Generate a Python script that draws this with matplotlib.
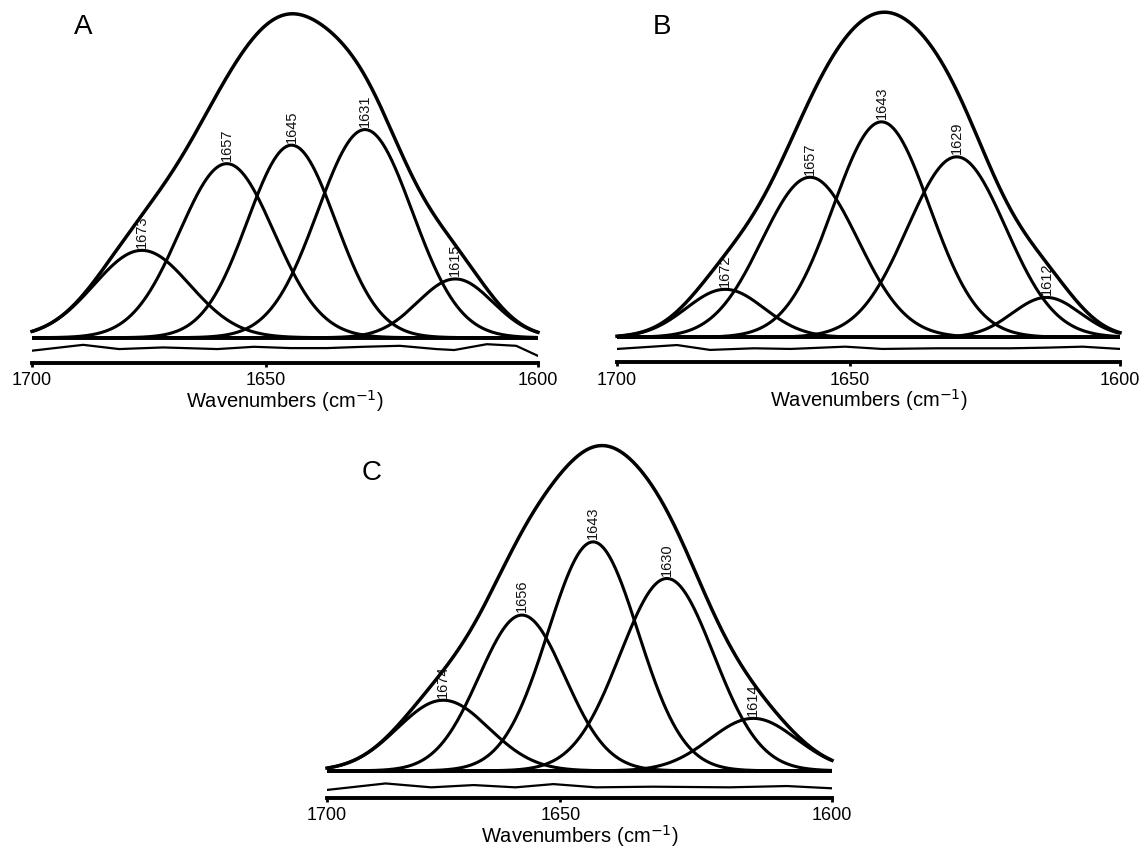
import numpy as np
import matplotlib
matplotlib.use("Agg")
import matplotlib.pyplot as plt

plt.rcParams['font.family'] = ['Liberation Sans', 'DejaVu Sans']

# ---------------- data ----------------
# left end of the drawn axis (labelled "1700" in the original figure)
axis_left = 1693.0
tick_values = [axis_left, 1650, 1600]
tick_labels = ['1700', '1650', '1600']

# Panel A
a_labels = ['1673', '1657', '1645', '1631', '1615']
a_centers = [1672.8, 1657.2, 1645.3, 1631.8, 1615.2]
a_heights = [0.269, 0.536, 0.593, 0.641, 0.181]
a_sigmas = [8.8, 8.7, 8.1, 8.7, 6.9]
a_res_wn = [1693, 1683.6, 1677.0, 1668.9, 1658.9, 1652.2, 1645.5, 1638.8,
            1632.1, 1625.4, 1618.7, 1615.4, 1609.4, 1604.0, 1600]
a_res_val = [-0.008, 0.010, -0.003, 0.002, -0.003, 0.004, 0.0, 0.0,
             0.004, 0.007, -0.003, -0.006, 0.012, 0.007, -0.024]

# Panel B
b_labels = ['1672', '1657', '1643', '1629', '1612']
b_centers = [1673.0, 1657.3, 1644.1, 1630.2, 1613.6]
b_heights = [0.148, 0.494, 0.665, 0.557, 0.123]
b_sigmas = [7.2, 8.9, 8.9, 9.1, 6.3]
b_res_wn = [1693, 1681.9, 1675.8, 1667.7, 1660.9, 1650.8, 1644.0, 1633.9,
            1620.4, 1613.6, 1606.9, 1600]
b_res_val = [-0.003, 0.009, -0.006, -0.001, -0.003, 0.004, -0.003, -0.001,
             -0.001, 0.001, 0.004, -0.003]

# Panel C
c_labels = ['1674', '1656', '1643', '1630', '1614']
c_centers = [1671.6, 1657.1, 1644.0, 1630.4, 1614.5]
c_heights = [0.218, 0.481, 0.707, 0.594, 0.162]
c_sigmas = [8.4, 7.9, 8.3, 8.6, 8.0]
c_res_wn = [1693, 1682.2, 1673.8, 1666.0, 1658.3, 1651.3, 1643.5, 1633.0,
            1618.9, 1608.3, 1600]
c_res_val = [-0.008, 0.012, 0.0, 0.007, 0.0, 0.010, 0.0, 0.002, 0.0, 0.004, -0.003]

W, H = 1145, 849


def rect(left_px, right_px, top_px, bottom_px):
    return [left_px / W, (H - bottom_px) / H, (right_px - left_px) / W,
            (bottom_px - top_px) / H]


panels = [
    dict(letter='A', labels=a_labels, centers=a_centers, heights=a_heights,
         sigmas=a_sigmas, res_wn=a_res_wn, res_val=a_res_val,
         res_offset=-0.032, ybottom=-0.077,
         rect=rect(32, 538, 3.3, 362.7), letter_px=(83, 27)),
    dict(letter='B', labels=b_labels, centers=b_centers, heights=b_heights,
         sigmas=b_sigmas, res_wn=b_res_wn, res_val=b_res_val,
         res_offset=-0.033, ybottom=-0.076,
         rect=rect(617, 1120, 3.6, 361.9), letter_px=(662, 27)),
    dict(letter='C', labels=c_labels, centers=c_centers, heights=c_heights,
         sigmas=c_sigmas, res_wn=c_res_wn, res_val=c_res_val,
         res_offset=-0.051, ybottom=-0.083,
         rect=rect(327, 832, 437.3, 797.7), letter_px=(372, 473)),
]

fig = plt.figure(figsize=(W / 100, H / 100), dpi=100)
wn = np.linspace(1600, axis_left, 800)

for p in panels:
    ax = fig.add_axes(p['rect'])
    total = np.zeros_like(wn)
    for lab, c, h, s in zip(p['labels'], p['centers'], p['heights'], p['sigmas']):
        y = h * np.exp(-(wn - c) ** 2 / (2 * s ** 2))
        total += y
        ax.plot(wn, y, color='black', lw=2.2, zorder=3, solid_capstyle='butt')
        ax.text(c, h + 0.008, lab, rotation=90, ha='center', va='bottom',
                fontsize=10.5, color='#111111', zorder=1)
    ax.plot(wn, total, color='black', lw=2.5, zorder=3, clip_on=False)
    ax.plot([1600, axis_left], [0, 0], color='black', lw=2.8, zorder=3,
            solid_capstyle='butt')
    ax.plot(p['res_wn'], np.array(p['res_val']) + p['res_offset'],
            color='black', lw=1.6, zorder=3)
    ax.set_xlim(axis_left, 1600)
    ax.set_ylim(p['ybottom'], 1.03)
    for side in ['top', 'left', 'right']:
        ax.spines[side].set_visible(False)
    ax.spines['bottom'].set_linewidth(2.8)
    ax.set_yticks([])
    ax.set_xticks(tick_values)
    ax.set_xticklabels(tick_labels, fontsize=13)
    ax.tick_params(axis='x', direction='out', length=3, width=2, pad=4)
    ax.set_xlabel('Wavenumbers (cm$^{-1}$)', fontsize=14.5, labelpad=-1)
    ax.patch.set_alpha(0)
    lx, ly = p['letter_px']
    fig.text(lx / W, 1 - ly / H, p['letter'], fontsize=20,
             ha='center', va='center')

fig.savefig('out.png', dpi=100)
